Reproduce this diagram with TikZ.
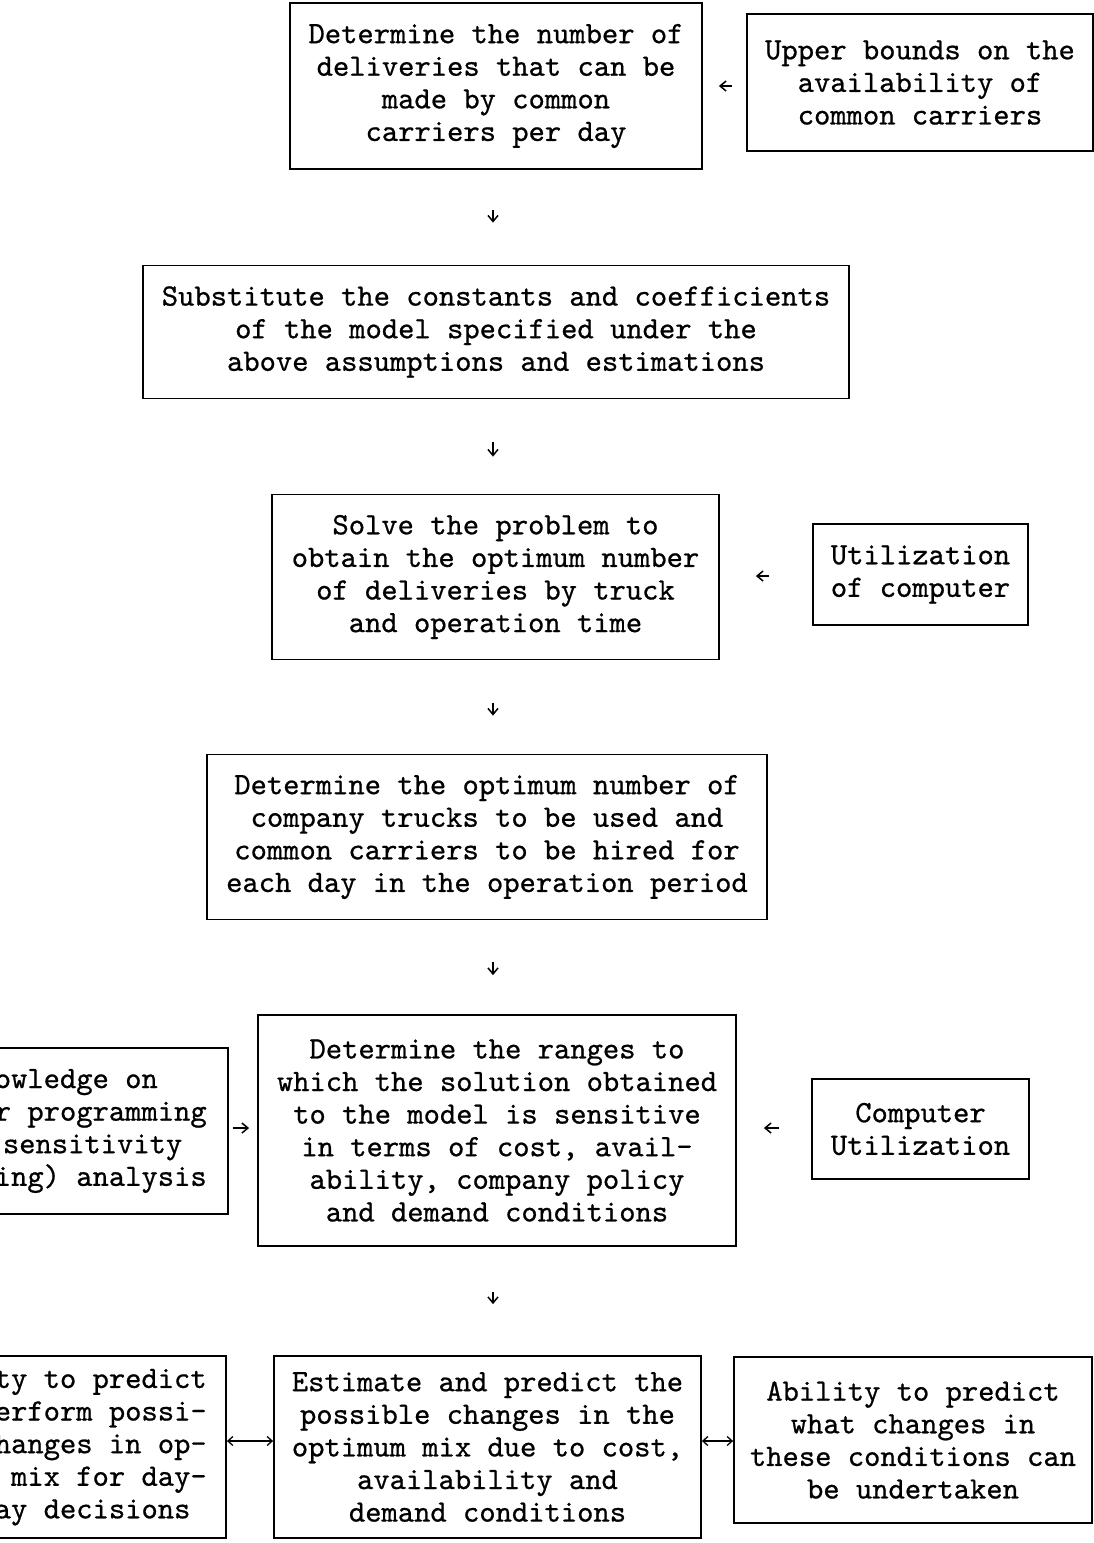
\documentclass[tikz,border=0pt]{standalone}
\usepackage{fontspec}
\setmonofont{lmmono10-regular.otf}[FakeBold=0.7]
\usetikzlibrary{arrows.meta}
\begin{document}
\begin{tikzpicture}[x=1pt,y=-1pt,
  box/.style={draw,line width=1.8pt,rectangle,inner sep=0pt,align=center,
    font=\ttfamily\fontsize{31.05}{32.6}\selectfont},
  arr/.style={line width=1.3pt,-{Straight Barb[length=6pt,width=10pt,line width=1.5pt]}},
  darr/.style={line width=1.3pt,{Straight Barb[length=5pt,width=9pt,line width=1.3pt]}-{Straight Barb[length=5pt,width=9pt,line width=1.3pt]}}]
\useasboundingbox (0,0) rectangle (1094,1543);
\clip (0,0) rectangle (1094,1543);
\coordinate (ax) at (493,0);
\node[box,minimum width=412,minimum height=166] (A) at (496,86)
  {Determine the number of\\deliveries that can be\\made by common\\carriers per day};
\node[box,minimum width=346,minimum height=137] (B) at (920,82.5)
  {Upper bounds on the\\availability of\\common carriers};
\node[box,minimum width=706,minimum height=133] (C) at (496,332)
  {Substitute the constants and coefficients\\of the model specified under the\\above assumptions and estimations};
\node[box,minimum width=447,minimum height=165] (D) at (495.5,577)
  {Solve the problem to\\obtain the optimum number\\of deliveries by truck\\and operation time};
\node[box,minimum width=215,minimum height=101] (E) at (920.5,574.5)
  {Utilization\\of computer};
\node[box,minimum width=560,minimum height=165] (F) at (487,837)
  {Determine the optimum number of\\company trucks to be used and\\common carriers to be hired for\\each day in the operation period};
\node[box,minimum width=478,minimum height=231] (G) at (497,1130.5)
  {Determine the ranges to\\which the solution obtained\\to the model is sensitive\\in terms of cost, avail-\\ability, company policy\\and demand conditions};
\node[box,minimum width=336,minimum height=166] (H) at (60,1131)
  {Knowledge on\\linear programming\\and sensitivity\\(ranging) analysis};
\node[box,minimum width=217,minimum height=100] (I) at (920.5,1129)
  {Computer\\Utilization};
\node[box,minimum width=427,minimum height=182] (J) at (487.5,1447)
  {Estimate and predict the\\possible changes in the\\optimum mix due to cost,\\availability and\\demand conditions};
\node[box,minimum width=332,minimum height=182] (K) at (60,1447)
  {Ability to predict\\and perform possi-\\ble changes in op-\\timum mix for day-\\to-day decisions};
\node[box,minimum width=358,minimum height=166] (L) at (913,1440)
  {Ability to predict\\what changes in\\these conditions can\\be undertaken};
\coordinate (y1) at (0,1441);
% vertical arrows
\draw[arr,shorten <=40pt,shorten >=42pt] (A.south -| ax) -- (C.north -| ax);
\draw[arr,shorten <=43pt,shorten >=37pt] (C.south -| ax) -- (D.north -| ax);
\draw[arr,shorten <=43pt,shorten >=38pt] (D.south -| ax) -- (F.north -| ax);
\draw[arr,shorten <=42pt,shorten >=39pt] (F.south -| ax) -- (G.north -| ax);
\draw[arr,shorten <=45pt,shorten >=51pt] (G.south -| ax) -- (J.north -| ax);
% horizontal arrows
\draw[arr,shorten <=14pt,shorten >=16pt] (B.west |- 0,86) -- (A.east |- 0,86);
\draw[arr,shorten <=43pt,shorten >=36pt] (E.west |- 0,576) -- (D.east |- 0,576);
\draw[arr,shorten <=4pt,shorten >=8pt] (H.east |- 0,1128) -- (G.west |- 0,1128);
\draw[arr,shorten <=32pt,shorten >=27pt] (I.west |- 0,1128) -- (G.east |- 0,1128);
\draw[darr] (K.east |- y1) -- (J.west |- y1);
\draw[darr] (J.east |- y1) -- (L.west |- y1);
\end{tikzpicture}
\end{document}
